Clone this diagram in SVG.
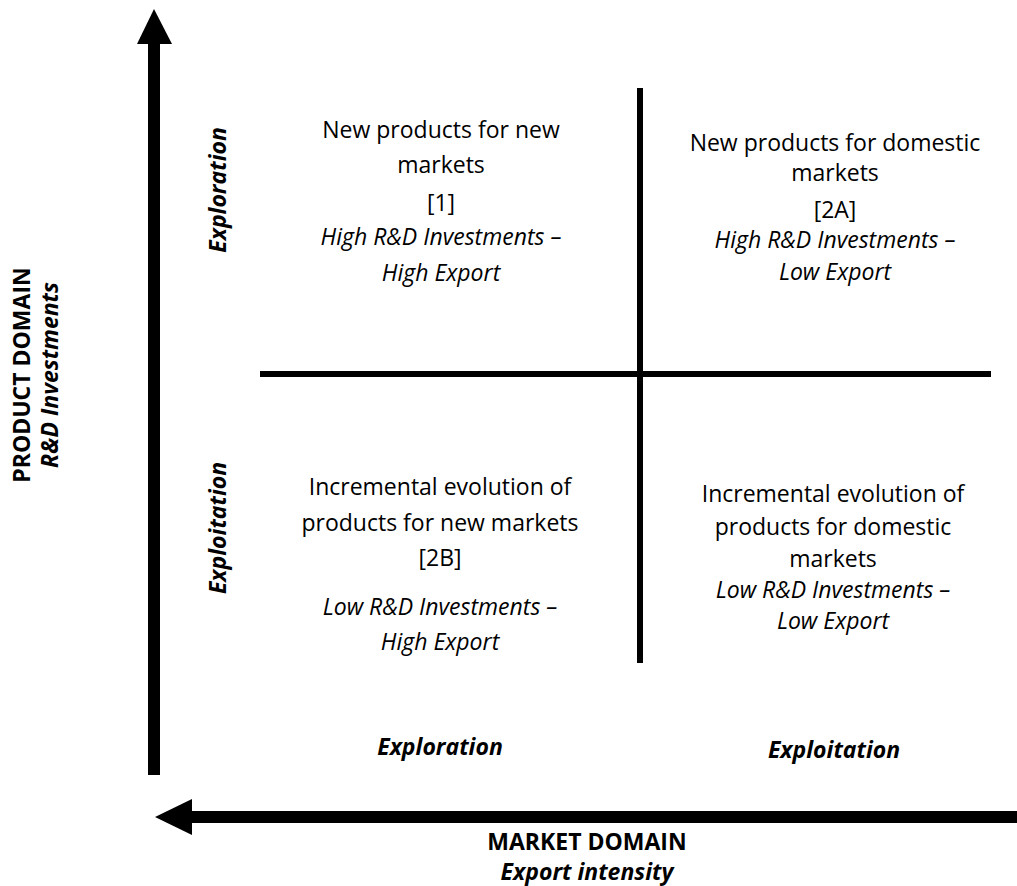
<svg xmlns="http://www.w3.org/2000/svg" width="1017" height="886" viewBox="0 0 1017 886">
<style>
text{font-family:"Open Sans","Noto Sans",sans-serif;font-size:23px;fill:#000;text-anchor:middle}
.i{font-style:italic}
.b{font-weight:bold}
.bi{font-weight:bold;font-style:italic}
.line{stroke:#000;stroke-width:6;fill:none}
</style>
<rect width="1017" height="886" fill="#fff"/>
<g id="connectors">
<rect x="148" y="42" width="12" height="733" fill="#000"/>
<polygon points="154,9 137,44 172,44" fill="#000"/>
<rect x="190" y="811" width="827" height="12" fill="#000"/>
<polygon points="155,817 192,799 192,835" fill="#000"/>
<line class="line" x1="260" y1="374" x2="991" y2="374"/>
<line class="line" x1="640" y1="88" x2="640" y2="663"/>
</g>
<g id="q1">
<text x="441" y="138">New products for new</text>
<text x="441" y="173">markets</text>
<text x="441" y="211">[1]</text>
<text class="i" x="441" y="245">High R&amp;D Investments –</text>
<text class="i" x="441" y="281">High Export</text>
</g>
<g id="q2a">
<text x="835" y="151">New products for domestic</text>
<text x="835" y="181">markets</text>
<text x="835" y="218">[2A]</text>
<text class="i" x="835" y="248">High R&amp;D Investments –</text>
<text class="i" x="835" y="280">Low Export</text>
</g>
<g id="q2b">
<text x="440" y="495">Incremental evolution of</text>
<text x="440" y="531">products for new markets</text>
<text x="440" y="566">[2B]</text>
<text class="i" x="440" y="615">Low R&amp;D Investments –</text>
<text class="i" x="440" y="650">High Export</text>
</g>
<g id="q3">
<text x="833" y="502">Incremental evolution of</text>
<text x="833" y="535">products for domestic</text>
<text x="833" y="567">markets</text>
<text class="i" x="833" y="598">Low R&amp;D Investments –</text>
<text class="i" x="833" y="629">Low Export</text>
</g>
<g id="axis-labels">
<text class="bi" transform="translate(226,190) rotate(-90)">Exploration</text>
<text class="bi" transform="translate(226,528) rotate(-90)">Exploitation</text>
<text class="bi" x="440" y="755">Exploration</text>
<text class="bi" x="834" y="758">Exploitation</text>
<text class="b" transform="translate(30,375) rotate(-90)">PRODUCT DOMAIN</text>
<text class="bi" transform="translate(58,375) rotate(-90)">R&amp;D Investments</text>
<text class="b" x="587" y="850">MARKET DOMAIN</text>
<text class="bi" x="587" y="880">Export intensity</text>
</g>
</svg>
